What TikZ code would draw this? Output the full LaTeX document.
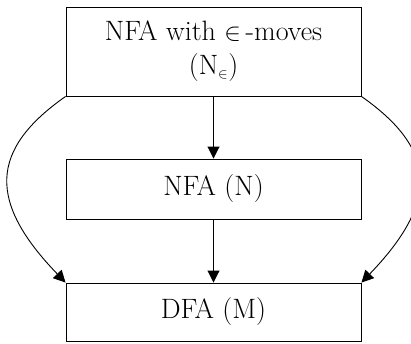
\documentclass[tikz,border=0pt]{standalone}
\usetikzlibrary{arrows.meta}
\begin{document}
\begin{tikzpicture}[x=1pt,y=1pt,
  box/.style={draw, line width=0.9pt, minimum width=295pt, inner sep=0pt, align=center,
    font=\fontsize{28}{34}\selectfont},
  conn/.style={line width=0.9pt, -{Triangle[length=12pt,width=12pt]}}]
\useasboundingbox (0,0) rectangle (411,343);
\node[box, minimum height=89pt] (top) at (213.5,291.5) {NFA with $\in$\,-moves\\(N$_{\scriptscriptstyle\in}$)};
\node[box, minimum height=60pt] (mid) at (213.5,154) {NFA (N)};
\node[box, minimum height=58pt] (bot) at (213.5,31) {DFA (M)};
\draw[conn] (top.south) -- (mid.north);
\draw[conn] (mid.south) -- (bot.north);
\draw[conn] (top.south west) .. controls +(-77,-54) and +(-77,80) .. (bot.north west);
\draw[conn] (top.south east) .. controls +(77,-54) and +(77,80) .. (bot.north east);
\end{tikzpicture}
\end{document}
